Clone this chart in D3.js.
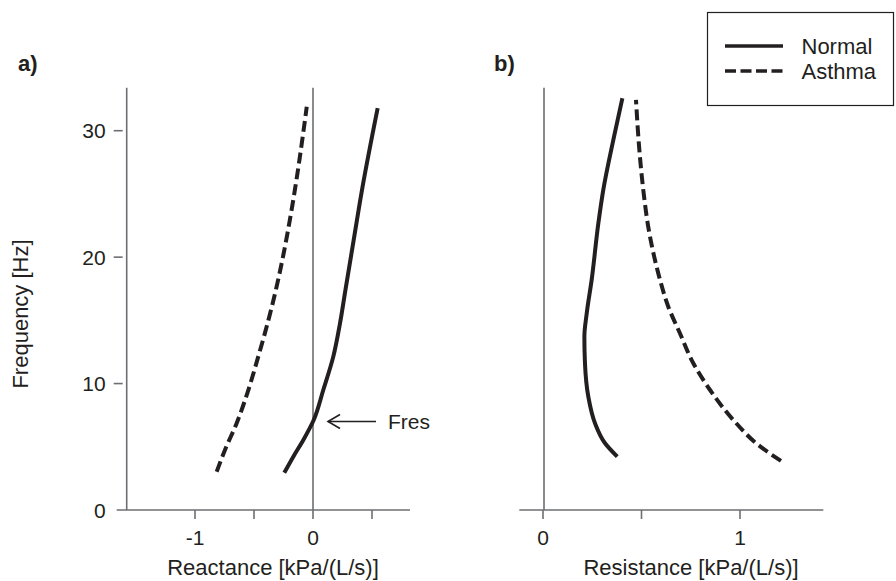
<!DOCTYPE html>
<html>
<head>
<meta charset="utf-8">
<script src="https://cdn.jsdelivr.net/npm/d3@7"></script>
<style>
  html, body { margin: 0; padding: 0; background: #fff; }
  svg text { font-family: "Liberation Sans", Arial, Helvetica, sans-serif; fill: #231f20; }
</style>
</head>
<body>
<svg id="chart" width="896" height="581"></svg>
<script>
// ---- Data ----
// Panel a: reactance [kPa/(L/s)] vs frequency [Hz]
const reactanceNormal = [
  {f: 2.95, v: -0.243}, {f: 4.22, v: -0.167}, {f: 5.54, v: -0.082}, {f: 7.12, v: 0.006},
  {f: 9.49, v: 0.087}, {f: 12.13, v: 0.172}, {f: 14.77, v: 0.229}, {f: 17.41, v: 0.275},
  {f: 21.36, v: 0.345}, {f: 25.3, v: 0.415}, {f: 31.78, v: 0.548}
];
const reactanceAsthma = [
  {f: 3.03, v: -0.816}, {f: 4.75, v: -0.746}, {f: 6.86, v: -0.647}, {f: 9.49, v: -0.548},
  {f: 12.13, v: -0.464}, {f: 14.77, v: -0.385}, {f: 17.27, v: -0.318}, {f: 20.0, v: -0.255},
  {f: 23.0, v: -0.195}, {f: 26.0, v: -0.142}, {f: 29.0, v: -0.095}, {f: 31.9, v: -0.053}
];
// Panel b: resistance [kPa/(L/s)] vs frequency [Hz]
const resistanceNormal = [
  {f: 4.22, v: 0.377}, {f: 5.28, v: 0.315}, {f: 6.86, v: 0.264}, {f: 8.96, v: 0.230},
  {f: 11.61, v: 0.213}, {f: 13.71, v: 0.210}, {f: 15.56, v: 0.222}, {f: 18.2, v: 0.247},
  {f: 22.68, v: 0.281}, {f: 25.32, v: 0.306}, {f: 29.27, v: 0.357}, {f: 32.57, v: 0.403}
];
const resistanceAsthma = [
  {f: 3.88, v: 1.208}, {f: 5.14, v: 1.093}, {f: 7.12, v: 0.966}, {f: 9.49, v: 0.848},
  {f: 11.61, v: 0.763}, {f: 13.98, v: 0.695}, {f: 16.08, v: 0.636}, {f: 18.2, v: 0.594},
  {f: 20.0, v: 0.565}, {f: 22.15, v: 0.537}, {f: 25.32, v: 0.509}, {f: 27.95, v: 0.492},
  {f: 32.44, v: 0.472}
];
const freqTicks = [0, 10, 20, 30];
const reactanceTicks = [-1, -0.5, 0, 0.5];
const reactanceTickLabels = {"-1": "-1", "0": "0"};
const resistanceTicks = [0, 0.5, 1];
const resistanceTickLabels = {"0": "0", "1": "1"};
const fresFrequency = 7.0;
const legendItems = [{name: "Normal", dash: null}, {name: "Asthma", dash: "11,4.5"}];

// ---- Drawing ----
const svg = d3.select("#chart");
const ink = "#231f20";
const axisGray = "#6d6e71";
const FS = 21;   // tick labels
const FT = 22;   // titles, legend

const y = d3.scaleLinear().domain([0, 30]).range([510, 130.7]);
const yTop = 87.7;

const xa = d3.scaleLinear().domain([-1, 0]).range([195, 313]);
const xb = d3.scaleLinear().domain([0, 1]).range([543, 740]);

function drawPanel(x, axisX, xLeft, xRight, ticks, tickLabels, showYTicks) {
  const g = svg.append("g");
  g.append("line").attr("x1", xLeft).attr("x2", xRight).attr("y1", y(0)).attr("y2", y(0))
    .attr("stroke", axisGray).attr("stroke-width", 1.6);
  g.append("line").attr("x1", axisX).attr("x2", axisX).attr("y1", yTop).attr("y2", y(0))
    .attr("stroke", axisGray).attr("stroke-width", 1.6);
  ticks.forEach(t => {
    g.append("line").attr("x1", x(t)).attr("x2", x(t)).attr("y1", y(0)).attr("y2", y(0) + 9)
      .attr("stroke", axisGray).attr("stroke-width", 1.6);
    const lab = tickLabels[String(t)];
    if (lab !== undefined) {
      g.append("text").attr("x", x(t)).attr("y", 545).attr("text-anchor", "middle")
        .attr("font-size", FS).text(lab);
    }
  });
  if (showYTicks) {
    freqTicks.forEach(t => {
      if (t !== 0) {
        g.append("line").attr("x1", axisX - 13).attr("x2", axisX - 4).attr("y1", y(t)).attr("y2", y(t))
          .attr("stroke", axisGray).attr("stroke-width", 1.6);
      }
      g.append("text").attr("x", axisX - 21).attr("y", y(t)).attr("dy", "0.36em")
        .attr("text-anchor", "end").attr("font-size", FS).text(t);
    });
  }
  return g;
}

const ga = drawPanel(xa, 126.7, 116.7, 410, reactanceTicks, reactanceTickLabels, true);
const gb = drawPanel(xb, 544, 519.3, 823.3, resistanceTicks, resistanceTickLabels, false);

// zero reactance line in panel a
ga.append("line").attr("x1", xa(0)).attr("x2", xa(0)).attr("y1", yTop).attr("y2", y(0))
  .attr("stroke", axisGray).attr("stroke-width", 1.6);

function curve(g, x, data, dash) {
  const line = d3.line().x(d => x(d.v)).y(d => y(d.f)).curve(d3.curveMonotoneY);
  const p = g.append("path").datum(data).attr("d", line).attr("fill", "none")
    .attr("stroke", ink).attr("stroke-width", 4);
  if (dash) p.attr("stroke-dasharray", dash);
}
curve(ga, xa, reactanceAsthma, "11,5");
curve(ga, xa, reactanceNormal, null);
curve(gb, xb, resistanceNormal, null);
curve(gb, xb, resistanceAsthma, "11,5");

// Fres arrow
const fy = y(fresFrequency);
const tipX = xa(0) + 15;
ga.append("line").attr("x1", tipX).attr("x2", tipX + 48).attr("y1", fy).attr("y2", fy)
  .attr("stroke", ink).attr("stroke-width", 1.6);
ga.append("path")
  .attr("d", `M${tipX + 12},${fy - 7} L${tipX},${fy} L${tipX + 12},${fy + 7}`)
  .attr("fill", "none").attr("stroke", ink).attr("stroke-width", 1.6);
ga.append("text").attr("x", tipX + 60).attr("y", fy).attr("dy", "0.36em")
  .attr("font-size", FS).text("Fres");

// axis titles
svg.append("text").attr("x", 273).attr("y", 575).attr("text-anchor", "middle")
  .attr("font-size", FT).text("Reactance [kPa/(L/s)]");
svg.append("text").attr("x", 691).attr("y", 575).attr("text-anchor", "middle")
  .attr("font-size", FT).text("Resistance [kPa/(L/s)]");
svg.append("text").attr("transform", "translate(28,314) rotate(-90)").attr("text-anchor", "middle")
  .attr("font-size", FT).text("Frequency [Hz]");

// panel labels
svg.append("text").attr("x", 18).attr("y", 71).attr("font-size", FT).attr("font-weight", "bold").text("a)");
svg.append("text").attr("x", 494).attr("y", 71).attr("font-size", FT).attr("font-weight", "bold").text("b)");

// legend
const lg = svg.append("g");
lg.append("rect").attr("x", 707.5).attr("y", 12.5).attr("width", 186).attr("height", 93)
  .attr("fill", "#fff").attr("stroke", ink).attr("stroke-width", 1.2);
legendItems.forEach((it, i) => {
  const ly = 46 + i * 25;
  const l = lg.append("line").attr("x1", 725).attr("x2", 783).attr("y1", ly).attr("y2", ly)
    .attr("stroke", ink).attr("stroke-width", 3.5);
  if (it.dash) l.attr("stroke-dasharray", it.dash);
  lg.append("text").attr("x", 801.5).attr("y", ly).attr("dy", "0.36em").attr("font-size", FT).text(it.name);
});
</script>
</body>
</html>
